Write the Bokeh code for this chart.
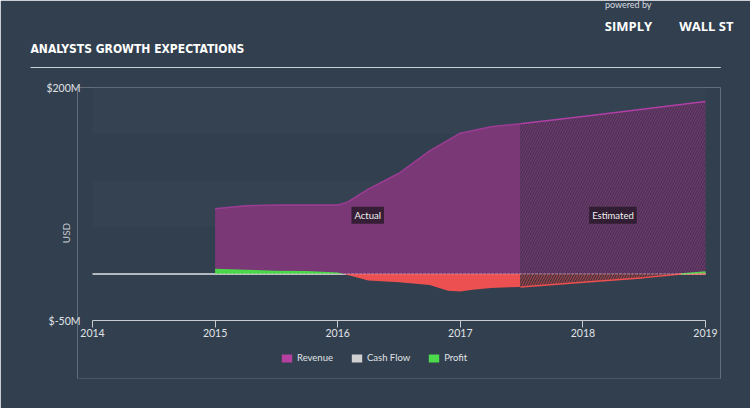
from bokeh.plotting import figure
from bokeh.models import (Range1d, FixedTicker, Label, Legend, LegendItem, BoxAnnotation, Title)
from bokeh.embed import file_html
from bokeh.resources import INLINE
import numpy as np

# ---------------- data ----------------
rev_years = [2015.0, 2015.25, 2015.5, 2015.75, 2016.0, 2016.08, 2016.25, 2016.5, 2016.75, 2017.0, 2017.25, 2017.49]
rev_vals = [70, 73, 74, 74, 74, 77, 91, 108, 132, 151, 158, 161]

est_years = [2017.49, 2018.0, 2018.5, 2019.0]
est_rev = [161, 169, 177, 185]

prof_years = [2015.0, 2015.25, 2015.5, 2015.75, 2016.0, 2016.05, 2016.25, 2016.5, 2016.75, 2016.9, 2017.0, 2017.1, 2017.25, 2017.49]
prof_vals = [5.5, 4.5, 3.5, 3.0, 1.5, 0.0, -7, -9, -12, -18, -19, -17, -15, -14]

est_prof_years = [2017.49, 2018.0, 2018.5, 2018.8, 2019.0]
est_prof_vals = [-14, -9, -4, 0.0, 2.0]

x_ticks = [2014, 2015, 2016, 2017, 2018, 2019]
y_ticks = [-50, 200]
y_tick_labels = {-50: "$-50M", 200: "$200M"}

actual_mid = (rev_years[0] + rev_years[-1]) / 2
est_mid = (est_years[0] + est_years[-1]) / 2

# ---------------- layout ----------------
# data area 92..705 x 87..320; frame padded 15px left/right and extended down to hold the legend
PAD = 15
L, R, T, B = 92 - PAD, 45 - PAD, 87, 30
DATA_W, DATA_H = 613, 233
FW = DATA_W + 2 * PAD
FH = 408 - T - B
XLO, XHI, YLO, Y1 = x_ticks[0], x_ticks[-1], -50, 200
px_per_year = DATA_W / (XHI - XLO)
px_per_unit = DATA_H / (Y1 - YLO)
X0 = XLO - PAD / px_per_year
X1 = XHI + PAD / px_per_year
Y0 = YLO - (FH - DATA_H) / px_per_unit
RIGHT_EDGE = L + FW

BG = "#313f4e"
FONT = "Lato"
TITLE_FONT = "'DejaVu Sans Condensed', Roboto, sans-serif"

p = figure(frame_width=FW, frame_height=FH, output_backend="svg", toolbar_location=None,
           x_range=Range1d(X0, X1), y_range=Range1d(Y0, Y1),
           min_border_left=L, min_border_right=R, min_border_top=T, min_border_bottom=B,
           background_fill_color=BG, border_fill_color=BG)
p.outline_line_color = BG
p.outline_line_alpha = 0
p.grid.visible = False

# subtle bands over the data area
for b, t in [(150, 200), (50, 100)]:
    p.add_layout(BoxAnnotation(left=XLO, right=XHI, bottom=b, top=t, fill_color="#3a4959",
                               fill_alpha=0.4, line_color=None, level="underlay"))

# first stroke in background colour
p.line([X0, X1], [Y0, Y0], line_color=BG, line_width=1)

# legend carriers (zero-height areas, drawn under the zero line)
leg_names = ["Revenue", "Cash Flow", "Profit"]
leg_colors = ["#b5409f", "#d0d0d0", "#4cd94c"]
leg_renderers = [p.varea(x=[XLO, XHI], y1=[0, 0], y2=[0, 0], fill_color=c) for c in leg_colors]

# zero line
p.line([XLO, XHI], [0, 0], line_color="#dfe3e6", line_width=1.5)

# x axis line (data extent only)
p.line([XLO, XHI], [YLO, YLO], line_color="#c8ccd0", line_width=1)

# revenue actual
p.varea(x=rev_years, y1=[0] * len(rev_years), y2=rev_vals, fill_color="#7a3876")
p.line(rev_years, rev_vals, line_color="#9c3c94", line_width=1.5)

# revenue estimated
p.varea(x=est_years, y1=[0] * len(est_years), y2=est_rev, fill_color="#6a3a6a",
        hatch_pattern="/", hatch_color="#3e2a48", hatch_alpha=0.8, hatch_scale=5, hatch_weight=1)
p.line(est_years, est_rev, line_color="#b13fa6", line_width=1.5)

# profit actual
pa = np.array(prof_vals, dtype=float)
p.varea(x=prof_years, y1=[0] * len(prof_years), y2=np.maximum(pa, 0), fill_color="#4cd64c")
p.varea(x=prof_years, y1=[0] * len(prof_years), y2=np.minimum(pa, 0), fill_color="#ec5050")

# profit estimated
pe = np.array(est_prof_vals, dtype=float)
p.varea(x=est_prof_years, y1=[0] * len(est_prof_years), y2=np.minimum(pe, 0), fill_color="#4a3440",
        hatch_pattern="/", hatch_color="#c44a4a", hatch_alpha=0.8, hatch_scale=5, hatch_weight=1)
p.varea(x=est_prof_years, y1=[0] * len(est_prof_years), y2=np.maximum(pe, 0), fill_color="#4cd64c")
p.line(est_prof_years, np.minimum(pe, 0), line_color="#ec5050", line_width=1.5)
p.line(est_prof_years[-2:], list(pe[-2:]), line_color="#4cd64c", line_width=1.5)

# zero line overlay (faint)
p.line([rev_years[0], XHI], [0, 0], line_color="#f0d0d8", line_width=1, line_alpha=0.55,
       line_dash="3 1")

# Actual / Estimated labels
for xx, txt in [(actual_mid, "Actual"), (est_mid, "Estimated")]:
    p.add_layout(Label(x=xx, y=63, text=txt, text_align="center", text_baseline="middle",
                       text_color="#f2f2f2", text_font=FONT, text_font_size="9.5px",
                       background_fill_color="#2a1a2c", background_fill_alpha=0.85,
                       padding=3))

# ---------------- header in the "above" panel (nearest the frame first) ----------------
rule = Title(text="\u00a0", align="left", offset=30 - L, standoff=39,
             text_font_size="1px", text_color="#c8d0d8",
             background_fill_color="#c8d0d8", padding=dict(left=0, right=690, top=0, bottom=0))
p.add_layout(rule, "above")
main_title = Title(text="ANALYSTS GROWTH EXPECTATIONS", align="left", offset=30 - L, standoff=-20,
                   text_font=TITLE_FONT, text_font_style="bold", text_font_size="12px",
                   text_color="#ffffff")
p.add_layout(main_title, "above")
logo = Title(text="SIMPLY" + "\u00a0" * 8 + "WALL ST", align="right", offset=RIGHT_EDGE - 733,
             standoff=22, text_font="Open Sans", text_font_style="bold", text_font_size="13px",
             text_color="#ffffff")
p.add_layout(logo, "above")
powered = Title(text="powered by", align="right", offset=RIGHT_EDGE - 651, standoff=-13,
                text_font=FONT, text_font_style="normal", text_font_size="9px",
                text_color="#d8dce0")
p.add_layout(powered, "above")

# ---------------- axes ----------------
xa = p.xaxis[0]
xa.fixed_location = YLO
xa.ticker = FixedTicker(ticks=x_ticks)
xa.axis_line_color = None
xa.major_tick_line_color = "#c8ccd0"
xa.major_tick_in = 0
xa.major_tick_out = 7
xa.minor_tick_line_color = None
xa.major_label_standoff = 1
xa.major_label_text_color = "#e0e3e6"
xa.major_label_text_font = FONT
xa.major_label_text_font_size = "10.5px"

ya = p.yaxis[0]
ya.ticker = FixedTicker(ticks=y_ticks)
ya.major_label_overrides = y_tick_labels
ya.axis_line_color = None
ya.major_tick_line_color = None
ya.minor_tick_line_color = None
ya.major_tick_out = 0
ya.major_label_standoff = 12 - PAD
ya.major_label_text_color = "#e0e3e6"
ya.major_label_text_font = FONT
ya.major_label_text_font_size = "10.5px"
ya.axis_label = "USD"
ya.axis_label_standoff = -29
ya.axis_label_text_font = FONT
ya.axis_label_text_font_style = "normal"
ya.axis_label_text_font_size = "10px"
ya.axis_label_text_color = "#c8ccd0"

# ---------------- legend (inside the extended frame) ----------------
items = [LegendItem(label=n, renderers=[r]) for n, r in zip(leg_names, leg_renderers)]
legend = Legend(items=items, orientation="horizontal", location=(188 + PAD, 15),
                background_fill_alpha=0, border_line_color=None, padding=0, margin=0,
                glyph_width=13, glyph_height=10, label_standoff=4, spacing=17,
                label_text_font=FONT, label_text_font_size="9.5px", label_text_color="#e0e3e6")
p.add_layout(legend, "center")

open("out.html", "w").write(file_html(p, INLINE))
